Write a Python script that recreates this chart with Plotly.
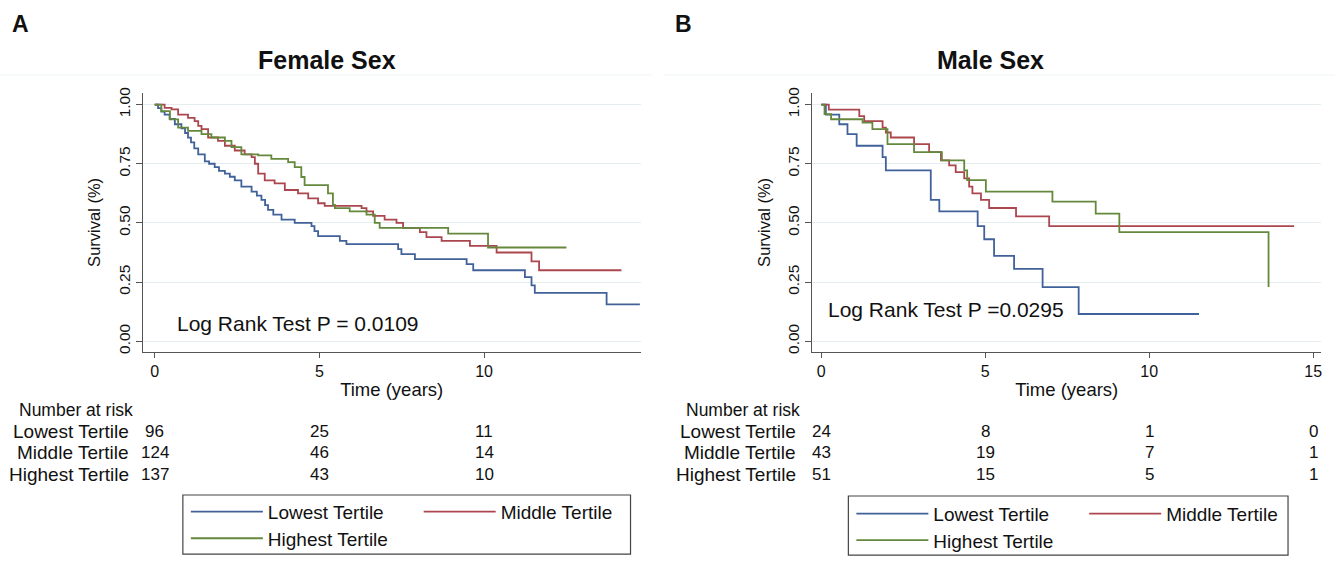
import plotly.graph_objects as go

W, H = 1336, 567
FONT = "Liberation Sans, Arial, Helvetica, sans-serif"

groups = ["Lowest Tertile", "Middle Tertile", "Highest Tertile"]
colors = ["#40619a", "#ab464f", "#64893c"]

# ---- Female sex (panel A) Kaplan-Meier step points ----
fem_low_t = [0, 0.1, 0.2, 0.3, 0.45, 0.61, 0.81, 0.92, 1.01, 1.1, 1.2, 1.32, 1.52, 1.65, 1.82, 1.95,
             2.13, 2.28, 2.43, 2.63, 2.94, 3.1, 3.24, 3.35, 3.44, 3.6, 3.85, 4.25, 4.76, 4.85, 4.96,
             5.62, 5.82, 7.39, 7.49, 7.9, 9.47, 9.67, 11.24, 11.44, 11.54, 13.72, 14.73]
fem_low_s = [1.0, 0.985, 0.97, 0.958, 0.94, 0.917, 0.90, 0.88, 0.86, 0.84, 0.815, 0.79, 0.76, 0.75, 0.736, 0.72,
             0.708, 0.695, 0.68, 0.653, 0.632, 0.615, 0.597, 0.575, 0.555, 0.535, 0.514, 0.50, 0.486, 0.465, 0.444,
             0.424, 0.41, 0.389, 0.368, 0.347, 0.326, 0.30, 0.271, 0.236, 0.204, 0.156, 0.156]

fem_mid_t = [0, 0.3, 0.51, 0.71, 1.01, 1.21, 1.32, 1.42, 1.62, 1.92, 2.13, 2.43, 2.73, 2.94, 3.04, 3.14,
             3.34, 3.64, 3.95, 4.35, 4.66, 4.96, 5.16, 6.28, 6.43, 6.63, 6.98, 7.34, 7.54, 8.05, 8.25,
             8.71, 9.57, 10.38, 11.44, 11.67, 14.17]
fem_mid_s = [1.0, 0.986, 0.98, 0.958, 0.944, 0.93, 0.91, 0.896, 0.861, 0.847, 0.826, 0.806, 0.79, 0.778, 0.75, 0.708,
             0.68, 0.667, 0.639, 0.625, 0.604, 0.583, 0.572, 0.5625, 0.549, 0.53, 0.514, 0.50, 0.479, 0.461, 0.44,
             0.424, 0.403, 0.375, 0.3375, 0.30, 0.30]

fem_high_t = [0, 0.2, 0.46, 0.71, 1.01, 1.42, 1.72, 2.13, 2.33, 2.63, 3.14, 3.54, 4.05, 4.25, 4.45, 4.55,
              5.26, 5.41, 5.47, 5.92, 6.43, 6.68, 6.83, 8.91, 10.12, 12.5]
fem_high_s = [1.0, 0.972, 0.9375, 0.903, 0.889, 0.875, 0.861, 0.847, 0.82, 0.79, 0.785, 0.771, 0.757, 0.736, 0.694, 0.66,
              0.625, 0.576, 0.5625, 0.549, 0.535, 0.50, 0.479, 0.455, 0.396, 0.396]

# ---- Male sex (panel B) ----
male_low_t = [0, 0.14, 0.55, 0.8, 1.08, 1.87, 1.97, 3.34, 3.6, 4.77, 4.97, 5.27, 5.88, 6.75, 7.85, 11.52]
male_low_s = [1.0, 0.958, 0.917, 0.875, 0.826, 0.778, 0.722, 0.597, 0.549, 0.486, 0.431, 0.361, 0.306, 0.229, 0.115, 0.115]

male_mid_t = [0, 0.23, 1.16, 1.31, 1.87, 1.97, 2.12, 2.83, 3.29, 3.65, 3.9, 4.1, 4.36, 4.51, 4.61, 4.87,
              5.12, 5.94, 6.95, 14.42]
male_mid_s = [1.0, 0.979, 0.951, 0.93, 0.903, 0.882, 0.861, 0.833, 0.799, 0.764, 0.743, 0.715, 0.688, 0.653, 0.625, 0.597,
              0.563, 0.528, 0.486, 0.486]

male_high_t = [0, 0.1, 0.3, 1.26, 1.56, 2.02, 2.83, 3.68, 4.36, 4.45, 5.02, 7.05, 8.37, 9.09, 13.64]
male_high_s = [1.0, 0.96, 0.938, 0.924, 0.896, 0.833, 0.799, 0.764, 0.722, 0.681, 0.632, 0.59, 0.539, 0.461, 0.229]

# ---- Number at risk ----
fem_risk_times = [0, 5, 10]
fem_risk = [[96, 25, 11], [124, 46, 14], [137, 43, 10]]
male_risk_times = [0, 5, 10, 15]
male_risk = [[24, 8, 1, 0], [43, 19, 7, 1], [51, 15, 5, 1]]

y_ticks = [0, 0.25, 0.5, 0.75, 1.0]
y_ticklabels = ["0.00", "0.25", "0.50", "0.75", "1.00"]

panels = [
    dict(title="Female Sex", letter="A", xaxis="x", yaxis="y",
         series=[(fem_low_t, fem_low_s), (fem_mid_t, fem_mid_s), (fem_high_t, fem_high_s)],
         logrank="Log Rank Test P = 0.0109", lr_pos=(0.6, 0.075),
         risk_t=fem_risk_times, risk=fem_risk,
         legends=["legend", "legend2", "legend3"]),
    dict(title="Male Sex", letter="B", xaxis="x2", yaxis="y2",
         series=[(male_low_t, male_low_s), (male_mid_t, male_mid_s), (male_high_t, male_high_s)],
         logrank="Log Rank Test P =0.0295", lr_pos=(0.15, 0.133),
         risk_t=male_risk_times, risk=male_risk,
         legends=["legend4", "legend5", "legend6"]),
]

def px(x):
    return x / W

def py(y):
    return 1 - y / H

fig = go.Figure()
for p in panels:
    for i, (t, s) in enumerate(p["series"]):
        fig.add_trace(go.Scatter(
            x=t, y=s, mode="lines", line=dict(color=colors[i], width=1.8, shape="hv"),
            name=groups[i], xaxis=p["xaxis"], yaxis=p["yaxis"], legend=p["legends"][i],
            hoverinfo="skip"))

axis_color = "#555555"
common_x = dict(showline=True, linecolor=axis_color, linewidth=1.2, ticks="outside", ticklen=5,
                tickcolor=axis_color, tickwidth=1.2, showgrid=False, zeroline=False,
                tickfont=dict(size=16, color="#111"), tickvals=[0, 5, 10, 15],
                title=dict(text="Time (years)", font=dict(size=18.5, color="#111"), standoff=3))
common_y = dict(showline=True, linecolor=axis_color, linewidth=1.2, ticks="outside", ticklen=6,
                tickcolor=axis_color, tickwidth=1.2, showgrid=True, gridcolor="#e4edef", gridwidth=1,
                zeroline=False, tickvals=y_ticks, ticktext=y_ticklabels, tickangle=-90,
                tickfont=dict(size=15.5, color="#111"), range=[-0.0458, 1.05],
                title=dict(text="Survival (%)", font=dict(size=16.5, color="#111"), standoff=10))

fig.update_layout(
    width=W, height=H, margin=dict(l=0, r=0, t=0, b=0),
    paper_bgcolor="white", plot_bgcolor="white",
    font=dict(family=FONT, color="#111"),
    xaxis=dict(domain=[px(143), px(641)], range=[-0.36, 14.75], anchor="y", **common_x),
    yaxis=dict(domain=[py(351), py(88)], anchor="x", **common_y),
    xaxis2=dict(domain=[px(813), px(1322)], range=[-0.27, 15.24], anchor="y2", **common_x),
    yaxis2=dict(domain=[py(351), py(88)], anchor="x2", **common_y),
    showlegend=True,
)

# legends: one entry each, positioned in Stata-style 2-column boxes
leg_common = dict(orientation="h", bgcolor="rgba(0,0,0,0)", borderwidth=0, itemwidth=72,
                  font=dict(size=19, color="#111"), xanchor="left", yanchor="middle",
                  itemclick=False, itemdoubleclick=False)
leg_pos = {
    "legend": (186, 513), "legend2": (419, 513), "legend3": (186, 540),
    "legend4": (852, 515), "legend5": (1085, 515), "legend6": (852, 542),
}
for k, (lx, ly) in leg_pos.items():
    fig.update_layout({k: dict(x=px(lx), y=py(ly), **leg_common)})

shapes = []
for (x0, x1) in [(183, 631), (849, 1289)]:
    y0, y1 = (496, 556) if x0 < 500 else (497, 557)
    shapes.append(dict(type="rect", xref="paper", yref="paper", x0=px(x0), x1=px(x1),
                       y0=py(y1), y1=py(y0), line=dict(color="#444", width=1.2)))
# faint graph-region borders
for (x0, x1) in [(0, 652), (664, 1336)]:
    shapes.append(dict(type="line", xref="paper", yref="paper", x0=px(x0), x1=px(x1),
                       y0=py(70), y1=py(70), line=dict(color="#eef3f4", width=1)))
fig.update_layout(shapes=shapes)

ann = []
panel_geo = [
    dict(letter_x=10, title_x=327, label_right=131, nar_x=17),
    dict(letter_x=674, title_x=991, label_right=799, nar_x=685),
]
row_y = [432, 453, 475]
for p, g in zip(panels, panel_geo):
    ann.append(dict(text="<b>" + p["letter"] + "</b>", x=px(g["letter_x"]), y=py(18), xref="paper", yref="paper",
                    xanchor="left", yanchor="middle", showarrow=False, font=dict(size=23, color="#111")))
    ann.append(dict(text="<b>" + p["title"] + "</b>", x=px(g["title_x"]), y=py(55), xref="paper", yref="paper",
                    xanchor="center", yanchor="middle", showarrow=False, font=dict(size=25, color="#111")))
    ann.append(dict(text=p["logrank"], x=p["lr_pos"][0], y=p["lr_pos"][1], xref=p["xaxis"], yref=p["yaxis"],
                    xanchor="left", yanchor="middle", showarrow=False, font=dict(size=21, color="#111")))
    ann.append(dict(text="Number at risk", x=px(g["nar_x"]), y=py(410), xref="paper", yref="paper",
                    xanchor="left", yanchor="middle", showarrow=False, font=dict(size=17.5, color="#111")))
    for r, grp in enumerate(groups):
        ann.append(dict(text=grp, x=px(g["label_right"]), y=py(row_y[r]), xref="paper", yref="paper",
                        xanchor="right", yanchor="middle", showarrow=False, font=dict(size=19, color="#111")))
        for tt, v in zip(p["risk_t"], p["risk"][r]):
            ann.append(dict(text=str(v), x=tt, y=py(row_y[r]), xref=p["xaxis"], yref="paper",
                            xanchor="center", yanchor="middle", showarrow=False, font=dict(size=17, color="#111")))
fig.update_layout(annotations=ann)

fig.write_html("out.html", config={"displayModeBar": False},
               post_script="document.body.style.margin='0px';document.body.style.overflow='hidden';")
